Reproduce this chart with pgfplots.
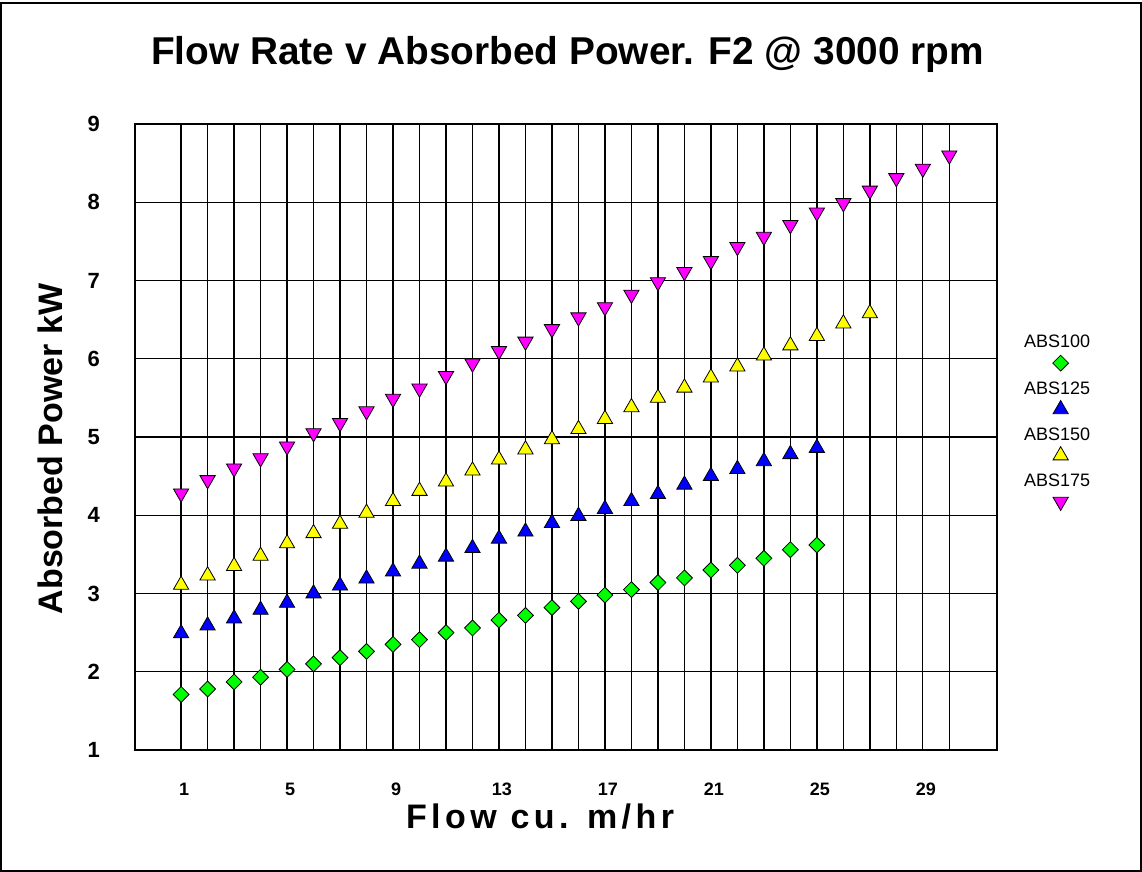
\documentclass[border=0pt]{standalone}
\usepackage{fontspec}
\setmainfont{Liberation Sans}
\newfontfamily\spacedfont[LetterSpace=13]{Liberation Sans}
\usepackage{pgfplots}
\usepackage{pgfplotstable}
\pgfplotsset{compat=1.18}
\definecolor{mkgreen}{RGB}{0,255,0}
\definecolor{mkblue}{RGB}{0,0,255}
\definecolor{mkyellow}{RGB}{255,255,0}
\definecolor{mkmag}{RGB}{255,0,255}
\pgfplotstableread{
x y
1 1.71
2 1.78
3 1.87
4 1.93
5 2.03
6 2.10
7 2.18
8 2.26
9 2.35
10 2.41
11 2.50
12 2.56
13 2.66
14 2.72
15 2.82
16 2.90
17 2.98
18 3.05
19 3.14
20 3.20
21 3.30
22 3.36
23 3.45
24 3.56
25 3.62
}\absA
\pgfplotstableread{
x y
1 2.49
2 2.59
3 2.68
4 2.79
5 2.88
6 3.00
7 3.10
8 3.19
9 3.28
10 3.38
11 3.47
12 3.58
13 3.70
14 3.79
15 3.90
16 3.99
17 4.08
18 4.18
19 4.27
20 4.39
21 4.50
22 4.59
23 4.69
24 4.78
25 4.86
}\absB
\pgfplotstableread{
x y
1 3.11
2 3.23
3 3.35
4 3.48
5 3.64
6 3.77
7 3.89
8 4.03
9 4.18
10 4.31
11 4.43
12 4.57
13 4.71
14 4.84
15 4.97
16 5.10
17 5.23
18 5.38
19 5.50
20 5.63
21 5.76
22 5.90
23 6.04
24 6.17
25 6.29
26 6.45
27 6.58
}\absC
\pgfplotstableread{
x y
1 4.28
2 4.45
3 4.60
4 4.73
5 4.88
6 5.05
7 5.18
8 5.33
9 5.49
10 5.62
11 5.78
12 5.94
13 6.10
14 6.22
15 6.38
16 6.53
17 6.66
18 6.82
19 6.98
20 7.11
21 7.25
22 7.43
23 7.56
24 7.71
25 7.87
26 7.99
27 8.15
28 8.31
29 8.43
30 8.60
}\absD
\begin{document}
\begin{tikzpicture}
\useasboundingbox (0pt,0pt) rectangle (571pt,436pt);
\draw[line width=1pt] (0.7pt,0.7pt) rectangle (570.3pt,434.5pt);
\begin{axis}[
  at={(67.5pt,61pt)}, anchor=south west,
  scale only axis, width=431pt, height=313pt,
  xmin=-0.74, xmax=31.8, ymin=1, ymax=9,
  xtick={1,...,30},
  xticklabels={1,,,,5,,,,9,,,,13,,,,17,,,,21,,,,25,,,,29,},
  ytick={1,...,9},
  grid=major,
  major grid style={black, line width=0.65pt},
  axis line style={line width=0.65pt},
  major tick length=0pt,
  /pgf/number format/assume math mode=true,
  xticklabel style={font=\fontsize{9}{10}\selectfont\bfseries, yshift=-13pt, xshift=1.5pt},
  yticklabel style={font=\fontsize{11}{13}\selectfont\bfseries, xshift=-14pt},
  legend style={draw=none, fill=none, at={(1.03,0.663)}, anchor=north west,
    font=\fontsize{9}{10.8}\selectfont, row sep=15.3pt, inner sep=0pt,
    nodes={inner sep=0pt}},
  legend image code/.code={\path (0pt,0pt); \draw[#1, overlay] plot coordinates {(18.5pt,-10pt)};},
  every axis plot/.append style={only marks, mark options={line width=0.6pt, draw=black}},
]
\addplot[mark=square*, mark size=2.8pt, mark options={rotate=45, fill=mkgreen}] table {\absA};
\addlegendentry{ABS100}
\addplot[mark=triangle*, mark size=4.4pt, mark options={fill=mkblue}] table {\absB};
\addlegendentry{ABS125}
\addplot[mark=triangle*, mark size=4.4pt, mark options={fill=mkyellow}] table {\absC};
\addlegendentry{ABS150}
\addplot[mark=triangle*, mark size=4.4pt, mark options={rotate=180, fill=mkmag}] table {\absD};
\addlegendentry{ABS175}
\end{axis}
\node[font=\fontsize{19.4}{23}\selectfont\bfseries, anchor=base] at (283.75pt,403.5pt) {Flow Rate v Absorbed Power. F2 @ 3000 rpm};
\node[font=\fontsize{17}{20}\selectfont\spacedfont\bfseries, anchor=base] at (270pt,21.5pt) {Flow cu. m/hr};
\node[font=\fontsize{17}{20}\selectfont\bfseries, rotate=90] at (25pt,211.5pt) {Absorbed Power kW};
\end{tikzpicture}
\end{document}
